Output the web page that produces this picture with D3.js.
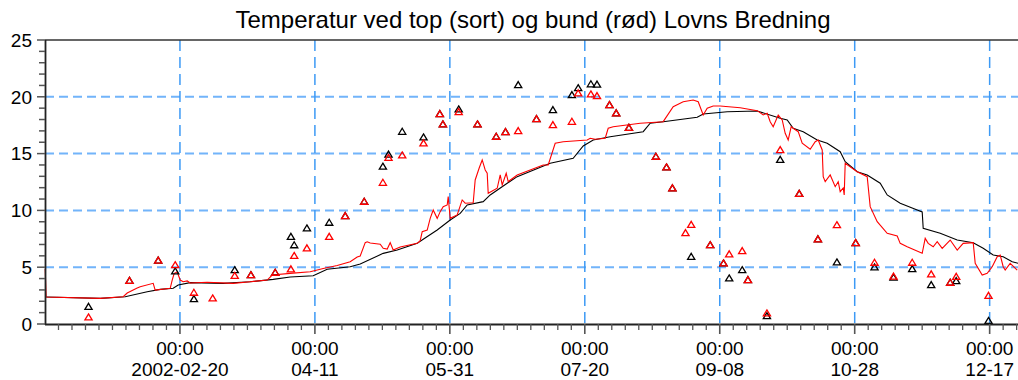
<!DOCTYPE html>
<html>
<head>
<meta charset="utf-8">
<script src="https://cdn.jsdelivr.net/npm/d3@7"></script>
<style>
  html, body { margin: 0; padding: 0; background: #fff; overflow: hidden; }
  svg { display: block; font-family: "Liberation Sans", Arial, Helvetica, sans-serif; }
</style>
</head>
<body>
<svg id="chart" width="1018" height="380"></svg>
<script>
// Day numbers count from 2002-01-01 00:00 (fractional days).
const title = "Temperatur ved top (sort) og bund (rød) Lovns Bredning";

// Continuous logger, top (black)
const topDays = [0.44,20.45,29.71,37.87,42.68,47.50,49.35,53.80,66.03,76.03,
  84.55,90.85,99.37,104.56,113.08,116.79,125.31,130.50,137.91,140.13,
  145.31,150.13,153.83,156.43,162.36,164.95,171.25,174.95,187.18,195.70,
  199.41,203.11,209.41,221.64,224.23,229.05,241.65,243.87,252.76,263.88,
  272.40,274.99,277.21,280.92,286.11,289.81,294.63,296.48,300.93,304.63,
  309.45,312.04,316.86,323.16,325.01,325.38,331.68,337.98,343.91,347.61,
  351.32,355.02,358.36,360.58];
const topTemp = [2.38,2.26,2.40,2.84,3.05,3.14,3.43,3.64,3.58,3.72,
  3.93,4.14,4.25,4.82,5.04,5.28,6.22,6.51,7.10,7.46,
  8.27,9.15,9.74,10.48,10.77,11.36,12.39,12.97,14.15,14.59,
  15.67,16.20,16.49,16.93,17.67,17.81,18.20,18.49,18.69,18.75,
  18.11,17.96,17.23,16.93,16.20,15.91,15.17,14.29,13.41,13.12,
  12.39,11.36,10.63,10.04,9.86,8.42,7.98,7.39,7.16,6.66,
  6.07,5.92,5.48,5.34];

// Continuous logger, bottom (red)
const bundDays = [0.07,0.44,20.45,28.97,30.46,34.16,35.27,40.09,40.83,46.39,47.13,
  47.87,48.98,50.09,51.20,52.68,53.80,60.10,69.73,76.03,82.33,
  84.18,90.85,98.26,100.85,103.08,108.26,113.08,115.67,116.79,118.64,
  119.38,120.49,124.20,125.31,126.79,127.90,129.01,131.61,137.91,139.02,
  139.76,141.61,142.72,143.83,145.31,146.42,147.54,149.02,149.39,150.13,
  152.72,154.57,155.69,158.65,159.39,160.87,161.99,163.10,163.84,164.21,
  167.54,168.66,169.40,170.88,171.62,174.95,184.58,186.44,189.03,191.99,
  200.89,202.00,203.85,207.56,208.67,210.52,220.53,229.05,232.75,236.46,
  240.16,242.02,243.87,245.35,247.57,250.17,257.58,263.88,266.10,267.58,
  268.69,269.80,271.66,273.14,274.25,275.36,276.47,277.21,279.07,280.55,
  283.51,285.37,286.48,287.96,288.33,289.07,290.92,292.78,293.89,294.63,
  295.74,296.11,296.48,300.93,304.63,305.74,308.34,312.04,315.75,316.86,
  319.45,325.01,326.12,327.23,329.08,330.57,332.42,335.38,337.98,340.20,
  343.91,344.65,347.24,349.09,350.95,352.80,353.91,355.02,355.76,357.61,
  360.21];
const bundTemp = [4.84,2.38,2.26,2.40,2.73,3.17,3.28,3.58,2.99,3.14,3.87,
  4.46,4.58,3.87,3.72,3.79,3.61,3.67,3.58,3.72,3.87,
  4.31,4.46,4.60,4.75,4.89,5.15,5.48,5.90,5.99,7.16,
  7.24,7.13,7.02,6.66,6.60,7.16,6.51,6.78,7.10,7.33,
  8.13,8.27,9.30,10.04,9.30,9.89,10.33,10.48,11.21,9.30,
  9.60,10.92,10.63,10.68,12.68,13.73,14.44,13.56,13.27,11.51,
  11.95,13.12,12.24,13.27,12.53,13.12,14.00,14.00,15.91,16.05,
  16.20,16.35,16.26,16.35,17.23,17.37,17.67,17.81,19.13,19.57,
  19.72,19.57,18.40,18.99,19.19,19.19,19.04,18.78,18.40,18.55,
  17.81,17.37,18.40,17.96,16.79,16.20,17.37,17.23,16.93,15.91,
  15.38,16.05,16.20,15.32,12.97,12.53,13.12,12.09,12.53,11.65,
  11.97,11.36,14.15,13.41,12.97,10.33,9.01,7.98,7.75,7.10,
  6.80,6.22,7.54,7.10,6.80,7.24,6.66,7.39,6.51,7.10,
  7.16,5.34,4.31,4.46,5.04,5.92,6.07,5.04,4.75,5.34,
  4.75];

// Profile casts: top and bottom reading per visit (null = no reading)
const profileDays = [16.12,31.31,41.94,48.24,55.17,62.13,70.29,76.29,85.29,91.11,
  92.33,97.04,105.30,111.23,118.27,125.19,127.27,132.35,140.24,146.28,
  147.42,153.28,160.24,167.17,170.62,175.32,182.10,188.18,195.22,197.55,
  202.26,204.52,209.15,211.63,216.34,226.34,230.27,232.46,237.31,239.42,
  246.46,251.39,253.50,258.32,260.43,267.47,272.40,279.44,286.37,293.41,
  300.37,307.34,314.38,321.31,328.35,335.39,337.61,349.58];
const profileTop = [1.52,3.81,5.59,4.64,2.20,null,4.75,4.31,4.52,7.68,
  6.94,8.42,8.92,9.51,10.77,13.86,14.92,16.93,16.43,18.49,
  17.58,18.90,17.58,16.49,16.90,21.04,18.05,18.84,20.16,20.77,
  21.11,21.08,19.28,18.55,17.28,14.73,13.79,11.95,null,5.92,
  6.95,5.34,4.02,4.75,3.87,0.70,14.46,11.47,7.46,5.43,
  7.13,4.99,4.09,4.84,3.43,3.64,3.79,0.28];
const profileBund = [0.59,3.81,5.59,5.19,2.76,2.26,4.24,4.31,4.52,4.82,
  6.00,6.67,7.68,9.51,10.77,12.44,14.63,14.85,15.91,18.49,
  17.58,18.66,17.58,16.49,16.90,16.99,18.05,17.52,17.81,20.31,
  20.22,20.07,19.28,18.55,17.28,14.73,13.79,11.95,8.01,8.74,
  6.95,5.34,6.14,6.43,3.87,0.94,15.32,11.47,7.46,8.71,
  7.13,5.40,4.18,5.40,4.38,3.64,4.16,2.49];

// Axis ticks
const majorTickDates = ["2002-02-20","2002-04-11","2002-05-31","2002-07-20","2002-09-08","2002-10-28","2002-12-17"];
const yTicks = [0, 5, 10, 15, 20, 25];

const t0 = Date.UTC(2002, 0, 1);
const dayToDate = d => new Date(t0 + d * 864e5);

const W = 1018, H = 380;
const plotLeft = 45, plotTop = 40, plotBottom = 324;
const pxPerDay = 2.699;

const x = d3.scaleUtc()
  .domain([dayToDate(0), dayToDate(364)])
  .range([plotLeft, plotLeft + 364 * pxPerDay]);
const y = d3.scaleLinear().domain([0, 25]).range([plotBottom, plotTop]);

const svg = d3.select("#chart");
svg.append("rect").attr("width", W).attr("height", H).attr("fill", "#fff");

// grid
const grid = svg.append("g");
grid.selectAll("line.h").data(yTicks.filter(v => v > 0 && v < 25)).join("line")
  .attr("x1", plotLeft).attr("x2", W)
  .attr("y1", d => y(d)).attr("y2", d => y(d))
  .attr("stroke", "#72b4fa").attr("stroke-width", 2)
  .attr("stroke-dasharray", "9,5");
const majorDates = majorTickDates.map(s => new Date(s + "T00:00:00Z"));
grid.selectAll("line.v").data(majorDates).join("line")
  .attr("x1", d => x(d)).attr("x2", d => x(d))
  .attr("y1", plotTop).attr("y2", plotBottom)
  .attr("stroke", "#3d9af5").attr("stroke-width", 1.5)
  .attr("stroke-dasharray", "11,6");

// data lines
const line = d3.line().x(d => x(dayToDate(d[0]))).y(d => y(d[1]));
const topSeries = topDays.map((d, i) => [d, topTemp[i]]);
const bundSeries = bundDays.map((d, i) => [d, bundTemp[i]]);

svg.append("path").datum(topSeries).attr("d", line)
  .attr("fill", "none").attr("stroke", "#000").attr("stroke-width", 1.1);
svg.append("path").datum(bundSeries).attr("d", line)
  .attr("fill", "none").attr("stroke", "#ff0000").attr("stroke-width", 1.1);

// profile markers (hollow triangles)
const tri = "M0,-3.4L3.6,2.6L-3.6,2.6Z";
function markers(values, color) {
  const pts = profileDays.map((d, i) => [d, values[i]]).filter(p => p[1] != null);
  svg.append("g").selectAll("path").data(pts).join("path")
    .attr("d", tri)
    .attr("transform", p => `translate(${x(dayToDate(p[0]))},${y(p[1])})`)
    .attr("fill", "none").attr("stroke", color).attr("stroke-width", 1.3);
}
markers(profileTop, "#000");
markers(profileBund, "#ff0000");

// frame
svg.append("line").attr("x1", plotLeft).attr("x2", W).attr("y1", plotTop).attr("y2", plotTop)
  .attr("stroke", "#333").attr("stroke-width", 1.5);
svg.append("line").attr("x1", plotLeft + 0.5).attr("x2", plotLeft + 0.5).attr("y1", plotTop).attr("y2", plotBottom + 1)
  .attr("stroke", "#222").attr("stroke-width", 1.8);
svg.append("line").attr("x1", plotLeft).attr("x2", W).attr("y1", plotBottom + 0.5).attr("y2", plotBottom + 0.5)
  .attr("stroke", "#222").attr("stroke-width", 2);

// y ticks
const yAxis = svg.append("g");
yAxis.selectAll("line").data(d3.range(0, 26)).join("line")
  .attr("x1", d => d % 5 === 0 ? plotLeft - 8 : plotLeft - 6).attr("x2", plotLeft)
  .attr("y1", d => y(d)).attr("y2", d => y(d))
  .attr("stroke", "#555").attr("stroke-width", 1.5);
yAxis.selectAll("text").data(yTicks).join("text")
  .attr("x", 32).attr("y", d => y(d)).attr("dy", "0.36em")
  .attr("text-anchor", "end").attr("font-size", 19).attr("fill", "#000")
  .text(d => d);

// x ticks: minor every 5 days, major at labelled dates
const xAxis = svg.append("g");
const minorDays = d3.range(5, 365, 5);
xAxis.selectAll("line").data(minorDays).join("line")
  .attr("x1", d => x(dayToDate(d))).attr("x2", d => x(dayToDate(d)))
  .attr("y1", plotBottom).attr("y2", d => d % 50 === 0 ? plotBottom + 10 : plotBottom + 6)
  .attr("stroke", "#555").attr("stroke-width", d => d % 50 === 0 ? 1.6 : 1.3);

const fmtTime = d3.utcFormat("%H:%M");
const fmtFirst = d3.utcFormat("%Y-%m-%d");
const fmtRest = d3.utcFormat("%m-%d");
const lbl = xAxis.selectAll("g.lbl").data(majorDates).join("g")
  .attr("transform", d => `translate(${x(d)},0)`);
lbl.append("text").attr("y", 355).attr("text-anchor", "middle")
  .attr("font-size", 19).text(d => fmtTime(d));
lbl.append("text").attr("y", 376).attr("text-anchor", "middle")
  .attr("font-size", 19).text((d, i) => i === 0 ? fmtFirst(d) : fmtRest(d));

// title
svg.append("text").attr("x", 533).attr("y", 28).attr("text-anchor", "middle")
  .attr("font-size", 24).attr("fill", "#000").text(title);
</script>
</body>
</html>
